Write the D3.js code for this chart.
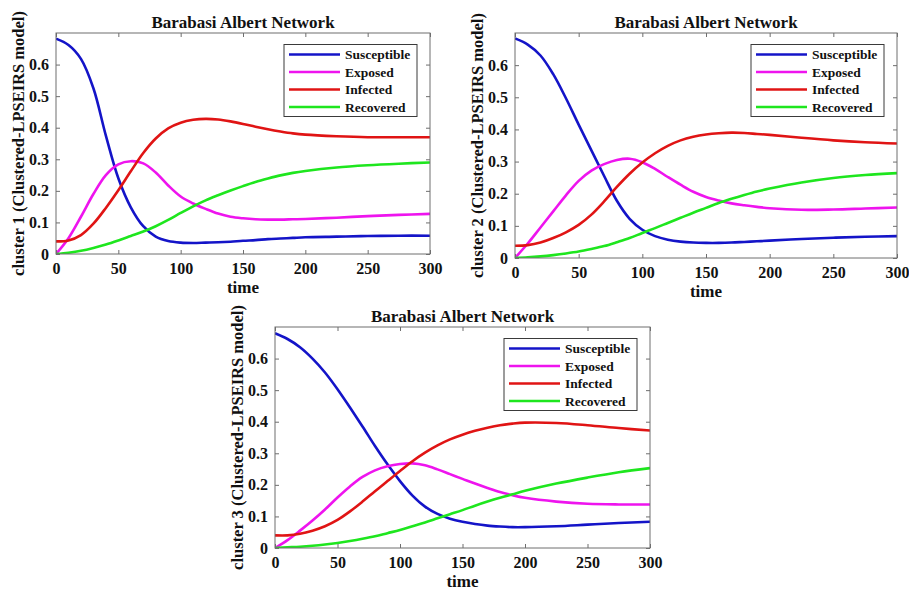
<!DOCTYPE html>
<html>
<head>
<meta charset="utf-8">
<script src="https://cdn.jsdelivr.net/npm/d3@7"></script>
<style>
  html, body { margin: 0; padding: 0; background: #fff; }
  svg { display: block; }
  text { font-family: "Liberation Serif", "Times New Roman", serif; font-weight: bold; fill: #111; }
</style>
</head>
<body>
<svg id="chart" width="909" height="591"></svg>
<script>
// Shared time grid (days) for every cluster
const time = [0, 10, 20, 30, 40, 50, 60, 70, 80, 90, 100, 110, 120, 130, 140, 150, 160, 170, 180, 190, 200, 225, 250, 275, 300];

const seriesNames = ["Susceptible", "Exposed", "Infected", "Recovered"];
const xTicks = [0, 50, 100, 150, 200, 250, 300];
const yTicks = [0, 0.1, 0.2, 0.3, 0.4, 0.5, 0.6];

// Cluster 1
const c1Susceptible = [0.682, 0.662, 0.618, 0.525, 0.375, 0.24, 0.148, 0.088, 0.055, 0.041, 0.036, 0.035, 0.036, 0.037, 0.039, 0.042, 0.044, 0.047, 0.049, 0.051, 0.053, 0.055, 0.057, 0.058, 0.058];
const c1Exposed     = [0, 0.05, 0.118, 0.19, 0.25, 0.284, 0.294, 0.287, 0.258, 0.217, 0.182, 0.16, 0.143, 0.128, 0.118, 0.113, 0.11, 0.109, 0.109, 0.11, 0.111, 0.115, 0.12, 0.124, 0.127];
const c1Infected    = [0.04, 0.043, 0.06, 0.096, 0.146, 0.202, 0.262, 0.32, 0.366, 0.398, 0.416, 0.425, 0.428, 0.426, 0.42, 0.412, 0.403, 0.395, 0.388, 0.382, 0.378, 0.373, 0.37, 0.37, 0.37];
const c1Recovered   = [0, 0.004, 0.01, 0.019, 0.03, 0.043, 0.057, 0.071, 0.088, 0.108, 0.13, 0.151, 0.17, 0.186, 0.201, 0.215, 0.228, 0.239, 0.249, 0.257, 0.263, 0.274, 0.281, 0.286, 0.29];

// Cluster 2
const c2Susceptible = [0.683, 0.664, 0.63, 0.572, 0.497, 0.415, 0.335, 0.255, 0.178, 0.122, 0.088, 0.068, 0.057, 0.051, 0.048, 0.047, 0.047, 0.048, 0.05, 0.052, 0.054, 0.059, 0.063, 0.066, 0.068];
const c2Exposed     = [0, 0.045, 0.095, 0.145, 0.195, 0.24, 0.272, 0.292, 0.305, 0.309, 0.298, 0.277, 0.252, 0.228, 0.206, 0.19, 0.179, 0.17, 0.164, 0.159, 0.155, 0.15, 0.151, 0.154, 0.157];
const c2Infected    = [0.038, 0.04, 0.048, 0.062, 0.08, 0.103, 0.135, 0.176, 0.221, 0.262, 0.297, 0.326, 0.349, 0.366, 0.377, 0.384, 0.388, 0.39, 0.389, 0.386, 0.383, 0.374, 0.366, 0.36, 0.356];
const c2Recovered   = [0, 0.002, 0.005, 0.009, 0.014, 0.02, 0.028, 0.037, 0.049, 0.062, 0.078, 0.093, 0.109, 0.125, 0.141, 0.156, 0.171, 0.184, 0.196, 0.207, 0.216, 0.235, 0.249, 0.258, 0.264];

// Cluster 3
const c3Susceptible = [0.68, 0.662, 0.636, 0.6, 0.556, 0.503, 0.445, 0.385, 0.323, 0.265, 0.212, 0.166, 0.131, 0.108, 0.093, 0.083, 0.076, 0.071, 0.068, 0.066, 0.066, 0.069, 0.074, 0.079, 0.083];
const c3Exposed     = [0, 0.025, 0.055, 0.087, 0.122, 0.16, 0.195, 0.225, 0.246, 0.259, 0.266, 0.268, 0.262, 0.249, 0.234, 0.219, 0.204, 0.19, 0.177, 0.167, 0.159, 0.147, 0.14, 0.138, 0.138];
const c3Infected    = [0.04, 0.04, 0.045, 0.055, 0.069, 0.089, 0.116, 0.147, 0.18, 0.212, 0.244, 0.275, 0.302, 0.325, 0.344, 0.359, 0.371, 0.381, 0.389, 0.394, 0.397, 0.396, 0.389, 0.38, 0.372];
const c3Recovered   = [0, 0.002, 0.004, 0.007, 0.011, 0.016, 0.022, 0.029, 0.037, 0.047, 0.057, 0.069, 0.081, 0.094, 0.107, 0.12, 0.134, 0.147, 0.159, 0.17, 0.181, 0.204, 0.223, 0.24, 0.253];

const colors = ["#1414c8", "#ee14ee", "#e01414", "#1ee61e"];

// Placement of the three axes boxes on the page
const panels = [
  { label: "cluster 1 (Clustered-LPSEIRS model)", left: 56,  right: 430, top: 33,  bottom: 254,
    data: [c1Susceptible, c1Exposed, c1Infected, c1Recovered] },
  { label: "cluster 2 (Clustered-LPSEIRS model)", left: 515, right: 897, top: 33,  bottom: 258,
    data: [c2Susceptible, c2Exposed, c2Infected, c2Recovered] },
  { label: "cluster 3 (Clustered-LPSEIRS model)", left: 275, right: 650, top: 327, bottom: 548,
    data: [c3Susceptible, c3Exposed, c3Infected, c3Recovered] }
];

const svg = d3.select("#chart");
const axisColor = "#6e6e6e";
const tickLen = 4;

panels.forEach(p => {
  const x = d3.scaleLinear().domain([0, 300]).range([p.left, p.right]);
  const y = d3.scaleLinear().domain([0, 0.7]).range([p.bottom, p.top]);
  const g = svg.append("g");

  // clip so curves stay inside the box
  const clipId = "clip-" + p.left;
  g.append("clipPath").attr("id", clipId)
    .append("rect").attr("x", p.left).attr("y", p.top)
    .attr("width", p.right - p.left).attr("height", p.bottom - p.top);

  // series curves
  const line = d3.line()
    .x((d, i) => x(time[i]))
    .y(d => y(d))
    .curve(d3.curveCatmullRom.alpha(0.5));

  const lines = g.append("g").attr("clip-path", `url(#${clipId})`);
  p.data.forEach((vals, k) => {
    lines.append("path")
      .attr("d", line(vals))
      .attr("fill", "none")
      .attr("stroke", colors[k])
      .attr("stroke-width", 2.6)
      .attr("stroke-linejoin", "round");
  });

  // bottom / left axes with inward ticks
  const xAxis = d3.axisBottom(x).tickValues(xTicks).tickSize(-tickLen).tickPadding(8).tickFormat(d3.format("d"));
  const yAxis = d3.axisLeft(y).tickValues(yTicks).tickSize(-tickLen).tickPadding(7)
    .tickFormat(d => d === 0 ? "0" : d3.format(".1f")(d));
  const xTop = d3.axisTop(x).tickValues(xTicks).tickSize(-tickLen).tickFormat("");
  const yRight = d3.axisRight(y).tickValues(yTicks).tickSize(-tickLen).tickFormat("");

  const gx = g.append("g").attr("transform", `translate(0,${p.bottom})`).call(xAxis);
  const gy = g.append("g").attr("transform", `translate(${p.left},0)`).call(yAxis);
  const gxt = g.append("g").attr("transform", `translate(0,${p.top})`).call(xTop);
  const gyr = g.append("g").attr("transform", `translate(${p.right},0)`).call(yRight);

  [gx, gy, gxt, gyr].forEach(a => {
    a.select(".domain").remove();
    a.selectAll(".tick line").attr("stroke", axisColor);
    a.selectAll(".tick text")
      .attr("font-family", "Liberation Serif, Times New Roman, serif")
      .attr("font-weight", "bold")
      .attr("font-size", 16)
      .attr("fill", "#111");
  });
  gx.selectAll(".tick text").attr("dy", "0.72em");

  // axes box
  g.append("rect")
    .attr("x", p.left).attr("y", p.top)
    .attr("width", p.right - p.left).attr("height", p.bottom - p.top)
    .attr("fill", "none").attr("stroke", axisColor).attr("stroke-width", 1);

  const cx = (p.left + p.right) / 2;
  const cy = (p.top + p.bottom) / 2;

  // title
  g.append("text")
    .attr("x", cx).attr("y", p.top - 5)
    .attr("text-anchor", "middle")
    .attr("font-size", 17)
    .text("Barabasi Albert Network");

  // x label
  g.append("text")
    .attr("x", cx).attr("y", p.bottom + 39)
    .attr("text-anchor", "middle")
    .attr("font-size", 17)
    .text("time");

  // y label
  g.append("text")
    .attr("transform", `translate(${p.left - 38},${cy}) rotate(-90)`)
    .attr("text-anchor", "middle")
    .attr("dominant-baseline", "central")
    .attr("font-size", 16.5)
    .text(p.label);

  // legend
  const lw = 133, lh = 72;
  const lx = p.right - 13 - lw, ly = p.top + 11.5;
  const leg = g.append("g").attr("transform", `translate(${lx},${ly})`);
  leg.append("rect")
    .attr("width", lw).attr("height", lh)
    .attr("fill", "#fff").attr("stroke", "#3a3a3a").attr("stroke-width", 1);
  seriesNames.forEach((name, k) => {
    const ry = 10 + k * 17.5;
    leg.append("line")
      .attr("x1", 5).attr("x2", 56).attr("y1", ry).attr("y2", ry)
      .attr("stroke", colors[k]).attr("stroke-width", 2.6);
    leg.append("text")
      .attr("x", 61).attr("y", ry)
      .attr("dominant-baseline", "central")
      .attr("font-size", 13.5)
      .text(name);
  });
});
</script>
</body>
</html>
